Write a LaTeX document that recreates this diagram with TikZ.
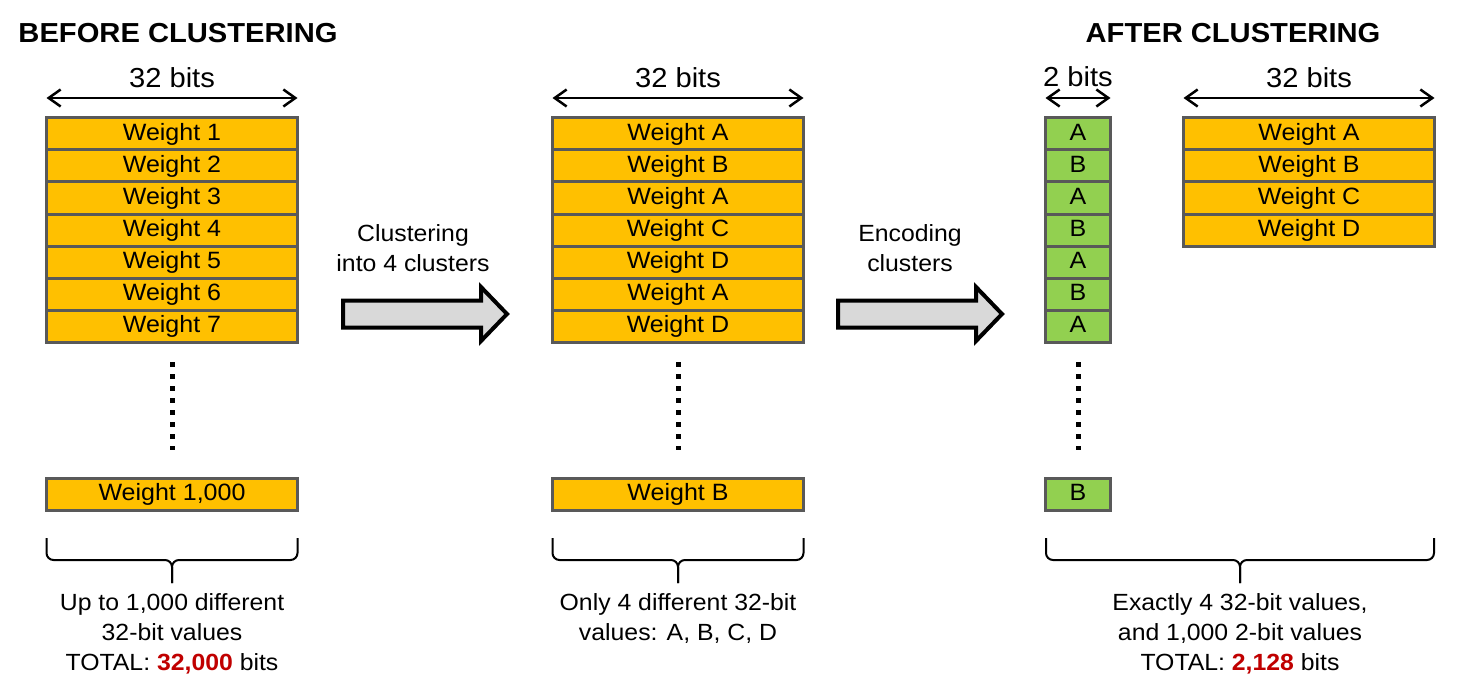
\documentclass[tikz,border=0pt]{standalone}
\usepackage{fontspec}
\setmainfont{Liberation Sans}[FakeStretch=1.06]
\usetikzlibrary{positioning, arrows.meta}
\definecolor{wgold}{HTML}{FFC000}
\definecolor{wgreen}{HTML}{92D050}
\definecolor{wframe}{HTML}{595959}
\definecolor{arrowgray}{HTML}{D9D9D9}
\definecolor{totalred}{HTML}{C00000}
\tikzset{>={Straight Barb[length=12pt, width=17pt]}}
\tikzset{
  wrow/.style = {draw=wframe, line width=3pt, fill=wgold, inner sep=0pt, outer sep=0pt,
                 minimum width=251pt, minimum height=32pt,
                 text height=17pt, text depth=4.5pt, font=\fontsize{23.6}{26}\selectfont},
  crow/.style = {wrow, fill=wgreen, minimum width=65pt},
  dims/.style = {<->, line width=2.5pt},
  bitlbl/.style = {font=\fontsize{27.5}{30}\selectfont},
  blockarrow/.style = {draw, line width=4pt, fill=arrowgray, line join=miter},
  dotcol/.style = {line width=5pt, dash pattern=on 5pt off 7pt},
  brace/.style = {line width=2pt, rounded corners=7pt},
  note/.style = {align=center, font=\fontsize{23.4}{30}\selectfont},
  title/.style = {font=\fontsize{27.5}{30}\selectfont\bfseries}
}

\begin{document}
\begin{tikzpicture}[x=1pt, y=-1pt]
    \useasboundingbox (0,0) rectangle (1466,695);

    % titles
    \node[title] (tbefore) at (178,33) {BEFORE CLUSTERING};
    \node[title] (tafter) at (1233,33) {AFTER CLUSTERING};

    % before: 1,000 different weights
    \node[wrow] (b1) at (172,134) {Weight 1};
    \foreach \i [remember=\i as \j (initially 1)] in {2,...,7}
        \node[wrow, below=0pt of b\j] (b\i) {Weight \i};
    \node[wrow] (bN) at (172,494) {Weight 1,000};
    \draw[dims] ([yshift=20pt]b1.north west) -- ([yshift=20pt]b1.north east)
        node[bitlbl, midway, yshift=20pt] (bbits) {32 bits};
    \draw[dotcol] ([yshift=-20pt]b7.south) -- ([yshift=28pt]bN.north);

    % clustered weights
    \node[wrow] (m1) at (678,134) {Weight A};
    \foreach \lbl [count=\i from 2, remember=\i as \j (initially 1)] in {B,A,C,D,A,D}
        \node[wrow, below=0pt of m\j] (m\i) {Weight \lbl};
    \node[wrow] (mN) at (678,494) {Weight B};
    \draw[dims] ([yshift=20pt]m1.north west) -- ([yshift=20pt]m1.north east)
        node[bitlbl, midway, yshift=20pt] (mbits) {32 bits};
    \draw[dotcol] ([yshift=-20pt]m7.south) -- ([yshift=28pt]mN.north);

    % encoded indices
    \node[crow] (c1) at (1078,134) {A};
    \foreach \lbl [count=\i from 2, remember=\i as \j (initially 1)] in {B,A,B,A,B,A}
        \node[crow, below=0pt of c\j] (c\i) {\lbl};
    \node[crow] (cN) at (1078,494) {B};
    \draw[dims] ([yshift=20pt]c1.north west) -- ([yshift=20pt]c1.north east)
        node[bitlbl, midway, yshift=21pt] (cbits) {2 bits};
    \draw[dotcol] ([yshift=-20pt]c7.south) -- ([yshift=28pt]cN.north);

    % codebook
    \node[wrow] (k1) at (1309,134) {Weight A};
    \foreach \lbl [count=\i from 2, remember=\i as \j (initially 1)] in {B,C,D}
        \node[wrow, below=0pt of k\j] (k\i) {Weight \lbl};
    \draw[dims] ([yshift=20pt]k1.north west) -- ([yshift=20pt]k1.north east)
        node[bitlbl, midway, yshift=20pt] (kbits) {32 bits};

    % block arrows
    \coordinate (a1) at (343,314);
    \draw[blockarrow] (a1) ++(0,-13.5) -- ++(138,0) -- ++(0,-13.5) -- ++(26,27)
        -- ++(-26,27) -- ++(0,-13.5) -- ++(-138,0) -- cycle;
    \node[note] (a1lbl) at (413,248) {Clustering\\into 4 clusters};
    \coordinate (a2) at (838,314);
    \draw[blockarrow] (a2) ++(0,-13.5) -- ++(138,0) -- ++(0,-13.5) -- ++(26,27)
        -- ++(-26,27) -- ++(0,-13.5) -- ++(-138,0) -- cycle;
    \node[note] (a2lbl) at (910,248) {Encoding\\clusters};

    % braces
    \coordinate (lmid) at (172,560);
    \coordinate (ltip) at (172,583);
    \draw[brace] ([yshift=-28pt]bN.south west) |- (lmid) -- (ltip);
    \draw[brace] ([yshift=-28pt]bN.south east) |- (lmid) -- (ltip);
    \coordinate (mmid) at (678,560);
    \coordinate (mtip) at (678,583);
    \draw[brace] ([yshift=-28pt]mN.south west) |- (mmid) -- (mtip);
    \draw[brace] ([yshift=-28pt]mN.south east) |- (mmid) -- (mtip);
    \coordinate (rmid) at (1240,560);
    \coordinate (rtip) at (1240,583);
    \coordinate (rl) at (1046,538);
    \coordinate (rr) at (1434,538);
    \draw[brace] (rl) |- (rmid) -- (rtip);
    \draw[brace] (rr) |- (rmid) -- (rtip);

    % totals
    \node[note] (lnote) at (172,634) {Up to 1,000 different\\32-bit values\\TOTAL: \textcolor{totalred}{\textbf{32,000}} bits};
    \node[note] (mnote) at (678,619) {Only 4 different 32-bit\\values: A, B, C, D};
    \node[note] (rnote) at (1240,634) {Exactly 4 32-bit values,\\and 1,000 2-bit values\\TOTAL: \textcolor{totalred}{\textbf{2,128}} bits};
\end{tikzpicture}
\end{document}
